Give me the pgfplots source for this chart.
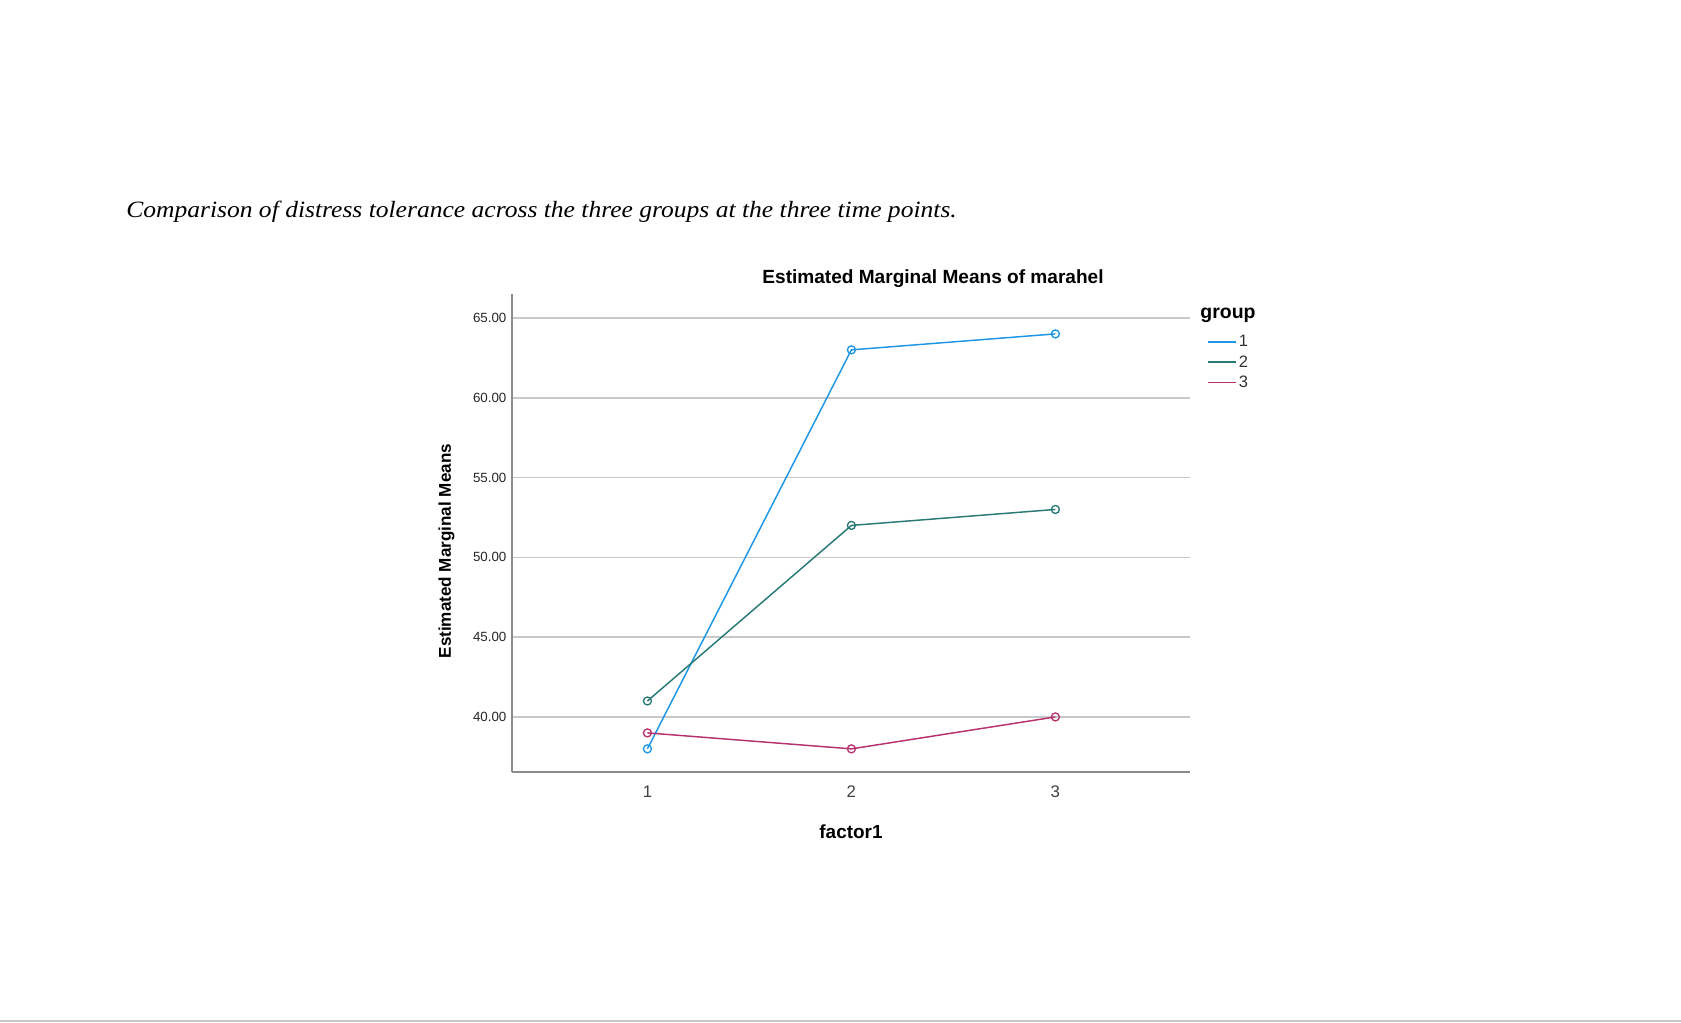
\documentclass[border=0pt]{standalone}
\usepackage{pgfplots}
\pgfplotsset{compat=1.18}
\usepackage{graphicx}
\usepackage{fontspec}
\setmainfont{Liberation Sans}
\newfontfamily\capfont{Liberation Serif}
\definecolor{grpone}{RGB}{30,150,230}
\definecolor{grptwo}{RGB}{40,122,118}
\definecolor{grpthree}{RGB}{182,50,110}
\definecolor{gridgray}{RGB}{200,200,200}
\definecolor{axisgray}{RGB}{140,140,140}

\begin{document}
\begin{tikzpicture}
% page is 1681 x 1022 px, 1 px = 0.75pt
\fill[white] (0,0) rectangle (1260.75pt,766.5pt);
\path[use as bounding box] (0,0) rectangle (1260.75pt,766.5pt);
\fill[gridgray] (0,0) rectangle (1260.75pt,1.3pt);
\node[anchor=west, inner sep=0pt, font=\capfont\itshape\fontsize{17.5}{20}\selectfont]
  at (94.5pt,607.3pt) {\scalebox{1.095}[1]{Comparison of distress tolerance across the three groups at the three time points.}};

\begin{axis}[
  at={(384pt,187.5pt)}, anchor=south west,
  scale only axis, width=508.5pt, height=358.5pt,
  xmin=0.336, xmax=3.66, ymin=36.55, ymax=66.5,
  axis x line*=bottom, axis y line*=left,
  axis line style={-, axisgray, line width=1.3pt},
  xtick={1,2,3}, ytick={40,45,50,55,60,65},
  major tick length=0pt,
  ymajorgrids, grid style={gridgray, line width=1.2pt},
  /pgf/number format/assume math mode=true,
  yticklabel style={/pgf/number format/.cd, fixed, fixed zerofill, precision=2, /tikz/.cd,
    font=\fontsize{10}{12}\selectfont, text=black!85, inner sep=4pt},
  xticklabel style={font=\fontsize{12.6}{14}\selectfont, text=black!75, yshift=-7pt},
  xlabel={\textbf{factor1}},
  xlabel style={font=\fontsize{14.2}{16}\selectfont, at={(rel axis cs:0.5,-0.1255)}, anchor=center},
  ylabel={\textbf{Estimated Marginal Means}},
  ylabel style={font=\fontsize{12.8}{15}\selectfont, at={(rel axis cs:-0.0965,0.462)}, anchor=center, rotate=0},
  legend cell align=left,
  legend style={at={(rel axis cs:1.025,0.918)}, anchor=north west, draw=none, fill=none,
    inner sep=0pt, row sep=2pt, font=\fontsize{12.4}{13}\selectfont,
    nodes={inner sep=1.5pt, text=black!80}},
  legend image code/.code={\draw[#1, line width=1.2pt] (0pt,0pt) -- (21pt,0pt);},
  every axis plot/.append style={line width=1.1pt, mark=o, mark size=3pt,
    mark options={fill=white, line width=1pt}},
  clip=false,
]
\addplot[grpone] coordinates {(1,38) (2,63) (3,64)};
\addlegendentry{1}
\addplot[grptwo] coordinates {(1,41) (2,52) (3,53)};
\addlegendentry{2}
\addplot[grpthree] coordinates {(1,39) (2,38) (3,40)};
\addlegendentry{3}
\node[anchor=center, font=\bfseries\fontsize{14.3}{16}\selectfont] at (rel axis cs:0.621,1.033) {Estimated Marginal Means of marahel};
\node[anchor=west, inner sep=0pt, font=\bfseries\fontsize{14.6}{16}\selectfont] at (rel axis cs:1.015,0.956) {group};
\end{axis}
\end{tikzpicture}
\end{document}
